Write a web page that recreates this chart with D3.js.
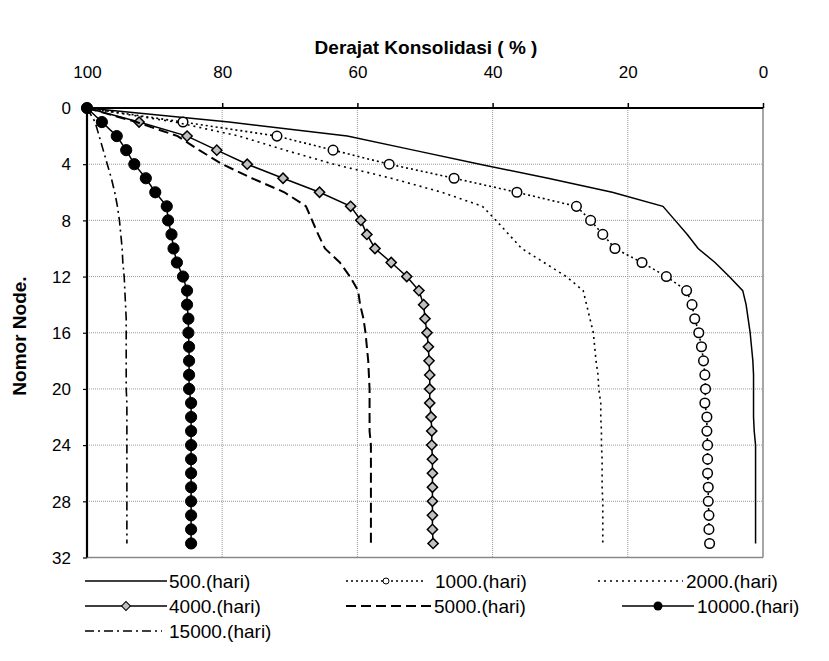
<!DOCTYPE html>
<html>
<head>
<meta charset="utf-8">
<script src="https://cdn.jsdelivr.net/npm/d3@7"></script>
<style>
  html, body { margin: 0; padding: 0; background: #fff; }
  svg { display: block; font-family: "Liberation Sans", Arial, sans-serif; }
</style>
</head>
<body>
<svg id="chart" width="829" height="661"></svg>
<script>
// ---------- data ----------
const nodes = [0,1,2,3,4,5,6,7,8,9,10,11,12,13,14,15,16,17,18,19,20,21,22,23,24,25,26,27,28,29,30,31];
const s500   = [100,79.0,61.5,51.7,41.9,31.8,22.3,14.8,13.0,11.2,9.6,7.1,5.0,3.0,2.5,2.2,1.9,1.7,1.5,1.4,1.4,1.4,1.4,1.3,1.1,1.1,1.1,1.1,1.1,1.1,1.1,1.1];
const s1000  = [100,85.8,71.9,63.6,55.3,45.7,36.4,27.6,25.5,23.7,21.9,17.9,14.3,11.3,10.5,10.1,9.5,9.1,8.8,8.6,8.5,8.6,8.3,8.3,8.2,8.2,8.2,8.1,8.1,8.0,8.0,7.9];
const s2000  = [100,87.0,77.5,70.7,63.5,55.0,47.5,41.5,39.5,37.6,35.7,32.4,29.1,26.6,26.1,25.6,25.1,24.9,24.7,24.4,24.3,24.0,24.0,23.9,23.9,23.8,23.8,23.8,23.7,23.7,23.7,23.7];
const s4000  = [100,92.3,85.2,80.8,76.3,71.0,65.6,61.0,59.5,58.6,57.4,55.0,52.7,50.9,50.2,50.0,49.7,49.5,49.4,49.3,49.3,49.3,49.1,49.0,49.0,48.9,48.9,48.9,48.9,48.9,48.9,48.8];
const s5000  = [100,92.7,86.6,83.4,80.0,75.6,70.8,67.6,66.7,65.8,64.8,62.6,61.1,59.9,59.6,59.1,58.8,58.6,58.4,58.3,58.2,58.2,58.2,58.2,58.0,58.0,58.0,58.0,58.0,58.0,58.0,58.0];
const s10000 = [100,97.8,95.6,94.2,93.0,91.3,89.9,88.2,88.0,87.5,87.2,86.7,85.8,85.2,85.2,85.0,85.0,84.9,84.9,84.9,84.9,84.6,84.6,84.6,84.6,84.6,84.6,84.6,84.6,84.6,84.6,84.6];
const s15000 = [100,98.8,98.2,97.6,97.0,96.4,95.9,95.5,95.2,95.0,94.8,94.7,94.5,94.4,94.3,94.2,94.2,94.2,94.2,94.2,94.2,94.1,94.1,94.1,94.1,94.1,94.1,94.1,94.1,94.1,94.1,94.1];
const seriesNames = ["500.(hari)","1000.(hari)","2000.(hari)","4000.(hari)","5000.(hari)","10000.(hari)","15000.(hari)"];
const xTicks = [100,80,60,40,20,0];
const yTicks = [0,4,8,12,16,20,24,28,32];
const xTitle = "Derajat Konsolidasi ( % )";
const yTitle = "Nomor Node.";

// ---------- styles ----------
const styles = [
  {vals: s500,   dash: null,        width: 1.5, marker: null},
  {vals: s1000,  dash: "2,3",       width: 1.6, marker: "open"},
  {vals: s2000,  dash: "2,4",       width: 1.6, marker: null},
  {vals: s4000,  dash: null,        width: 1.5, marker: "diamond"},
  {vals: s5000,  dash: "10,5",      width: 2,   marker: null},
  {vals: s10000, dash: null,        width: 1.5, marker: "filled"},
  {vals: s15000, dash: "9,4,2,4",   width: 1.6, marker: null}
];

const svg = d3.select("#chart");
const L = 87, R = 763, T = 108, B = 557.5;
const x = d3.scaleLinear().domain([100, 0]).range([L, R]);
const y = d3.scaleLinear().domain([0, 32]).range([T, B]);

// grid
const grid = svg.append("g");
grid.selectAll("line.gx").data(xTicks.filter(d => d !== 100 && d !== 0)).enter().append("line")
  .attr("x1", d => x(d)).attr("x2", d => x(d)).attr("y1", T).attr("y2", B)
  .attr("stroke", "#999").attr("stroke-width", 1).attr("stroke-dasharray", "1,1");
grid.selectAll("line.gy").data(yTicks.filter(d => d !== 0 && d !== 32)).enter().append("line")
  .attr("x1", L).attr("x2", R).attr("y1", d => y(d)).attr("y2", d => y(d))
  .attr("stroke", "#999").attr("stroke-width", 1).attr("stroke-dasharray", "1,1");

// plot border right/bottom
svg.append("line").attr("x1", R).attr("x2", R).attr("y1", T).attr("y2", B).attr("stroke", "#888").attr("stroke-width", 1.5);
svg.append("line").attr("x1", L).attr("x2", R).attr("y1", B).attr("y2", B).attr("stroke", "#888").attr("stroke-width", 1.5);

// axes
const xAxis = d3.axisTop(x).tickValues(xTicks).tickSize(5).tickPadding(0).tickFormat(d3.format("d"));
const gx = svg.append("g").attr("transform", `translate(0,${T})`).call(xAxis);
gx.select(".domain").attr("stroke", "#000").attr("stroke-width", 2.2).attr("d", `M${L},0H${R}`);
gx.selectAll(".tick line").attr("stroke", "#000").attr("stroke-width", 1.5);
gx.selectAll(".tick text").attr("font-size", 17).attr("fill", "#000")
  .attr("y", -30).attr("dy", 0);

const yAxis = d3.axisLeft(y).tickValues(yTicks).tickSize(4).tickPadding(0).tickFormat(d3.format("d"));
const gy = svg.append("g").attr("transform", `translate(${L},0)`).call(yAxis);
gy.select(".domain").attr("stroke", "#000").attr("stroke-width", 2.2).attr("d", `M0,${T}V${B}`);
gy.selectAll(".tick line").attr("stroke", "#000").attr("stroke-width", 1.2);
gy.selectAll(".tick text").attr("font-size", 17).attr("fill", "#000")
  .attr("x", -16).attr("dy", "0.34em");

// titles
svg.append("text").attr("x", 426).attr("y", 54).attr("text-anchor", "middle")
  .attr("font-size", 19).attr("font-weight", "bold").text(xTitle);
svg.append("text").attr("transform", "translate(26,336) rotate(-90)").attr("text-anchor", "middle")
  .attr("font-size", 19).attr("font-weight", "bold").text(yTitle);

// series
const line = d3.line().x(d => x(d[0])).y(d => y(d[1]));

function drawMarkers(g, pts, marker) {
  if (marker === "open") {
    g.selectAll("circle").data(pts).enter().append("circle")
      .attr("cx", d => x(d[0])).attr("cy", d => y(d[1])).attr("r", 4.8)
      .attr("fill", "#fff").attr("stroke", "#000").attr("stroke-width", 1.5);
  } else if (marker === "filled") {
    g.selectAll("circle").data(pts).enter().append("circle")
      .attr("cx", d => x(d[0])).attr("cy", d => y(d[1])).attr("r", 5.6)
      .attr("fill", "#000").attr("stroke", "#000").attr("stroke-width", 1);
  } else if (marker === "diamond") {
    g.selectAll("path").data(pts).enter().append("path")
      .attr("d", d3.symbol().type(d3.symbolSquare).size(52))
      .attr("transform", d => `translate(${x(d[0])},${y(d[1])}) rotate(45)`)
      .attr("fill", "#c0c0c0").attr("stroke", "#000").attr("stroke-width", 1.5);
  }
}

styles.forEach((s, i) => {
  const pts = nodes.map((n, k) => [s.vals[k], n]);
  const g = svg.append("g");
  g.append("path").datum(pts).attr("d", line).attr("fill", "none")
    .attr("stroke", "#000").attr("stroke-width", s.width)
    .attr("stroke-dasharray", s.dash);
  if (s.marker) drawMarkers(g.append("g"), pts, s.marker);
});

// legend
const legendPos = [
  {x1: 85,  x2: 167, tx: 169, y: 581},
  {x1: 346, x2: 426, tx: 435, y: 581},
  {x1: 598, x2: 683, tx: 686, y: 581},
  {x1: 85,  x2: 167, tx: 169, y: 606},
  {x1: 346, x2: 431, tx: 434, y: 606},
  {x1: 622, x2: 694, tx: 697, y: 606},
  {x1: 85,  x2: 162, tx: 169, y: 631}
];
const lg = svg.append("g");
styles.forEach((s, i) => {
  const p = legendPos[i];
  lg.append("line").attr("x1", p.x1).attr("x2", p.x2).attr("y1", p.y).attr("y2", p.y)
    .attr("stroke", "#000").attr("stroke-width", s.width).attr("stroke-dasharray", s.dash);
  const cx = (p.x1 + p.x2) / 2;
  if (s.marker === "open") {
    lg.append("circle").attr("cx", cx).attr("cy", p.y).attr("r", 3)
      .attr("fill", "#fff").attr("stroke", "#000").attr("stroke-width", 1);
  } else if (s.marker === "filled") {
    lg.append("circle").attr("cx", cx).attr("cy", p.y).attr("r", 4.5).attr("fill", "#000");
  } else if (s.marker === "diamond") {
    lg.append("path").attr("d", d3.symbol().type(d3.symbolSquare).size(40))
      .attr("transform", `translate(${cx},${p.y}) rotate(45)`)
      .attr("fill", "#c0c0c0").attr("stroke", "#000").attr("stroke-width", 1);
  }
  lg.append("text").attr("x", p.tx).attr("y", p.y).attr("dy", "0.35em")
    .attr("font-size", 19).text(seriesNames[i]);
});
</script>
</body>
</html>
